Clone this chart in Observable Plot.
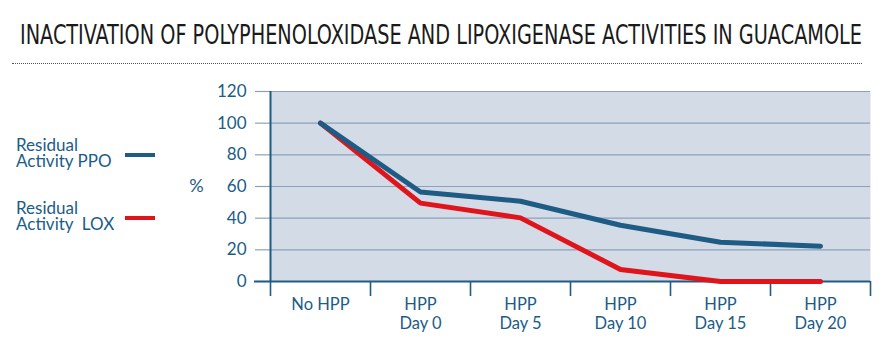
<!DOCTYPE html>
<html>
<head>
<meta charset="utf-8">
<script src="https://cdn.jsdelivr.net/npm/d3@7"></script>
<script src="https://cdn.jsdelivr.net/npm/@observablehq/plot@0.6"></script>
<style>
  body { margin: 0; background: #fff; }
  #wrap { position: relative; width: 892px; height: 354px; overflow: hidden; font-family: Lato, "Noto Sans", sans-serif; }
  #head { position: relative; height: 75px; }
  #title { position: absolute; left: 20px; top: 21px; font-family: "Liberation Sans Narrow", "DejaVu Sans Condensed", "Liberation Sans", sans-serif; font-size: 27px; font-weight: 300; color: #1a1a1a; white-space: nowrap; transform-origin: 0 0; line-height: 1; }
  #rule { position: absolute; left: 12px; width: 850px; top: 63px; border-top: 1.5px dotted #555; }
  .leg { position: absolute; left: 16px; color: #1b5c88; font-size: 17px; line-height: 16px; white-space: pre; }
  .sw { position: absolute; left: 125px; width: 30px; height: 4px; }
  svg { display: block; }
</style>
</head>
<body>
<div id="wrap">
  <div id="head">
    <div id="title">INACTIVATION OF POLYPHENOLOXIDASE AND LIPOXIGENASE ACTIVITIES IN GUACAMOLE</div>
    <div id="rule"></div>
  </div>
  <div id="chart"></div>
  <div class="leg" style="top:137px">Residual
Activity PPO</div>
  <div class="sw" style="top:153px;background:#1e5c86"></div>
  <div class="leg" style="top:200px">Residual
Activity  LOX</div>
  <div class="sw" style="top:216px;background:#e0141b"></div>
</div>
<script>
const categories = ["No HPP", "HPP\nDay 0", "HPP\nDay 5", "HPP\nDay 10", "HPP\nDay 15", "HPP\nDay 20"];
const ppo = [100, 56.5, 50.7, 35.5, 24.8, 22.3];
const lox = [100, 49.5, 40.2, 7.6, 0, 0];
const yTicks = [0, 20, 40, 60, 80, 100, 120];

const textColor = "#1b5c88";
const ppoColor = "#1e5c86";
const loxColor = "#e0141b";

const idx = categories.map((d, i) => i);
const boundaries = [...idx.map(i => i - 0.5), categories.length - 0.5];
const ppoData = idx.map(i => ({i, v: ppo[i]}));
const loxData = idx.map(i => ({i, v: lox[i]}));

const chart = Plot.plot({
  width: 892,
  height: 279,
  marginLeft: 270,
  marginRight: 22,
  marginTop: 16,
  marginBottom: 73,
  style: {fontFamily: "Lato, 'Noto Sans', sans-serif", fontSize: "16px", background: "transparent"},
  x: {type: "linear", domain: [-0.5, categories.length - 0.5]},
  y: {domain: [0, 120]},
  marks: [
    Plot.frame({fill: "#d3dbe6", stroke: null}),
    Plot.gridY(yTicks, {stroke: "#8ca1b9", strokeOpacity: 1, strokeWidth: 1.2}),
    Plot.axisY(yTicks, {tickSize: 15, tickPadding: 9, stroke: "#8ca1b9", strokeWidth: 1.2, fill: textColor, fontSize: 17, label: null}),
    Plot.ruleX([-0.5], {stroke: ppoColor, strokeWidth: 2}),
    Plot.ruleY([0], {stroke: ppoColor, strokeWidth: 2, insetLeft: -16}),
    Plot.axisX(boundaries, {tickSize: 15, stroke: ppoColor, strokeWidth: 1.6, tickFormat: () => "", label: null}),
    Plot.axisX(idx, {tickSize: 0, tickPadding: 16, tickFormat: i => categories[i], fill: textColor, fontSize: 16.5, lineHeight: 1.1, label: null}),
    Plot.text(["%"], {frameAnchor: "left", dx: -74, fill: textColor, fontSize: 18, textAnchor: "middle"}),
    Plot.line(loxData, {x: "i", y: "v", stroke: loxColor, strokeWidth: 5, strokeLinejoin: "miter"}),
    Plot.line(ppoData, {x: "i", y: "v", stroke: ppoColor, strokeWidth: 5, strokeLinejoin: "miter"})
  ]
});
document.getElementById("chart").appendChild(chart);

const t = document.getElementById("title");
const w = t.getBoundingClientRect().width;
t.style.transform = `scaleX(${842 / w})`;
</script>
</body>
</html>
